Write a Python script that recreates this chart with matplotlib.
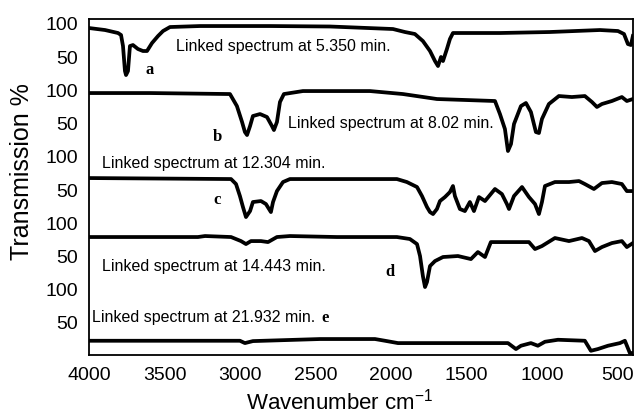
import matplotlib
matplotlib.use("Agg")
import matplotlib.pyplot as plt

plt.rcParams["font.family"] = ["Liberation Sans", "DejaVu Sans"]
plt.rcParams["mathtext.default"] = "regular"

# spectra: wavenumber (cm-1) and transmission (%)
wn_a = [4000, 3894, 3808, 3788, 3775, 3762, 3755, 3742, 3729, 3709, 3676, 3643, 3616,
        3583, 3543, 3510, 3464, 3265, 2802, 2405, 1988, 1909, 1843, 1790, 1743, 1710,
        1690, 1670, 1657, 1631, 1611, 1591, 1280, 949, 618, 499, 459, 433, 413, 400]
t_a = [92.4, 89.4, 84.9, 81.9, 65.3, 27.7, 21.6, 27.7, 65.3, 66.8, 60.8, 57.8, 57.8,
       69.8, 80.4, 87.9, 93.9, 95.4, 95.4, 94.7, 90.9, 86.4, 83.4, 72.8, 57.8, 42.7,
       35.2, 48.8, 42.7, 60.8, 75.9, 84.9, 84.9, 86.4, 89.4, 87.9, 83.4, 68.3, 66.8, 80.4]

wn_b = [4000, 3596, 3067, 3021, 2987, 2968, 2954, 2934, 2915, 2868, 2822, 2789, 2776,
        2756, 2736, 2710, 2584, 2140, 1922, 1697, 1313, 1280, 1247, 1227, 1207, 1187,
        1141, 1108, 1075, 1042, 1022, 1002, 956, 890, 804, 718, 671, 638, 605, 539,
        473, 440, 400]
t_b = [94.5, 94.5, 93.0, 74.9, 50.9, 35.8, 31.3, 44.8, 59.9, 62.9, 58.4, 44.8, 38.8,
       50.9, 81.0, 93.0, 97.5, 97.5, 93.0, 85.5, 82.5, 62.9, 40.3, 7.2, 17.7, 47.9,
       74.9, 79.5, 65.9, 35.8, 34.3, 55.4, 78.0, 90.0, 88.5, 90.0, 81.0, 73.5, 78.0,
       82.5, 88.5, 82.5, 85.5]

wn_c = [4000, 3060, 3027, 3001, 2981, 2961, 2934, 2915, 2862, 2829, 2796, 2782, 2756,
        2716, 2670, 1962, 1896, 1829, 1796, 1763, 1743, 1723, 1697, 1677, 1644, 1611,
        1591, 1578, 1545, 1512, 1479, 1452, 1419, 1379, 1313, 1267, 1234, 1220, 1187,
        1134, 1088, 1048, 1022, 1002, 982, 916, 823, 757, 718, 658, 605, 539, 473,
        440, 400]
t_c = [66.5, 65.0, 57.5, 39.4, 22.9, 7.8, 16.8, 30.4, 31.9, 27.4, 15.3, 30.4, 46.9,
       60.5, 65.0, 65.0, 60.5, 53.0, 39.4, 22.9, 15.3, 12.3, 19.9, 31.9, 37.9, 45.4,
       54.5, 39.4, 19.9, 16.8, 30.4, 16.8, 37.9, 31.9, 50.0, 42.4, 27.4, 19.9, 39.4,
       53.0, 37.9, 27.4, 12.3, 30.4, 54.5, 60.5, 60.5, 62.0, 57.5, 50.0, 59.0, 60.5,
       57.5, 46.9, 46.9]

wn_d = [4000, 3279, 3232, 3060, 2994, 2961, 2928, 2862, 2815, 2756, 2670, 2359, 1962,
        1876, 1829, 1809, 1790, 1776, 1763, 1743, 1710, 1657, 1558, 1472, 1426, 1379,
        1340, 1247, 1088, 1048, 1002, 916, 823, 737, 691, 651, 605, 539, 473, 440, 400]
t_d = [77.7, 77.7, 79.2, 77.7, 71.6, 67.1, 71.6, 71.6, 70.1, 77.7, 79.2, 77.7, 77.7,
       74.7, 67.1, 49.1, 18.9, 2.4, 9.9, 34.0, 41.5, 47.6, 49.1, 44.5, 55.1, 47.6,
       70.1, 70.1, 70.1, 59.6, 64.1, 76.2, 71.6, 76.2, 71.6, 56.6, 62.6, 68.6, 71.6,
       62.6, 68.6]

wn_e = [4000, 3001, 2968, 2915, 2471, 2107, 2041, 1955, 1604, 1227, 1174, 1141, 1075,
        1029, 982, 896, 718, 678, 632, 565, 486, 453, 420, 400]
t_e = [21.5, 21.5, 18.0, 21.0, 24.1, 24.1, 21.5, 18.0, 18.0, 18.0, 9.0, 14.0, 18.0,
       14.0, 20.0, 23.0, 21.5, 6.4, 9.0, 14.0, 18.0, 21.5, 3.0, 3.0]

spectra = [(wn_a, t_a), (wn_b, t_b), (wn_c, t_c), (wn_d, t_d), (wn_e, t_e)]
offsets = [400, 300, 200, 100, 0]
letters = ["a", "b", "c", "d", "e"]
captions = ["Linked spectrum at 5.350 min.", "Linked spectrum at 8.02 min.",
            "Linked spectrum at 12.304 min.", "Linked spectrum at 14.443 min.",
            "Linked spectrum at 21.932 min."]
x_ticks = [4000, 3500, 3000, 2500, 2000, 1500, 1000, 500]
y_ticks = [50, 100, 150, 200, 250, 300, 350, 400, 450, 500]
y_labels = ["50", "100", "50", "100", "50", "100", "50", "100", "50", "100"]

fig = plt.figure(figsize=(6.38, 4.14), dpi=100)
ax = fig.add_axes([0.1395, 0.140, 0.8525, 0.8117])

for (wn, t), off in zip(spectra, offsets):
    ax.plot(wn, [v + off for v in t], color="black", lw=2.7, solid_joinstyle="round")

ax.set_xlim(4000, 400)
ax.set_ylim(0, 506)
ax.set_xticks(x_ticks)
ax.set_xticklabels([str(v) for v in x_ticks])
ax.set_yticks(y_ticks)
ax.set_yticklabels(y_labels)
ax.tick_params(axis="both", length=0, labelsize=14)
ax.tick_params(axis="y", pad=8)
ax.tick_params(axis="x", pad=8)
for s in ax.spines.values():
    s.set_linewidth(1.3)

# captions and letters, positions in axes fraction
cap_pos = [(0.160, 0.920), (0.366, 0.693), (0.024, 0.574), (0.024, 0.265), (0.0055, 0.116)]
let_pos = [(0.112, 0.851), (0.237, 0.652), (0.235, 0.464), (0.553, 0.250), (0.434, 0.113)]
for txt, (x, y) in zip(captions, cap_pos):
    ax.text(x, y, txt, transform=ax.transAxes, fontsize=11.5, ha="left", va="center")
for txt, (x, y) in zip(letters, let_pos):
    ax.text(x, y, txt, transform=ax.transAxes, fontsize=12, fontweight="bold",
            family="Liberation Serif", ha="center", va="center")

ax.set_xlabel("Wavenumber cm$^{-1}$", fontsize=16)
ax.set_ylabel("Transmission %", fontsize=18)
ax.xaxis.set_label_coords(0.46, -0.135)
ax.yaxis.set_label_coords(-0.123, 0.548)
ax.xaxis.label.set_va("center")
ax.yaxis.label.set_va("center")

fig.savefig("out.png", dpi=100)
